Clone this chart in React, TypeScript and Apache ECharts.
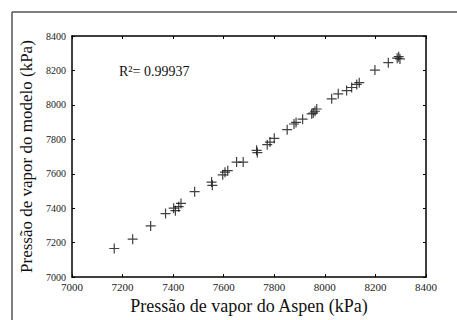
import React, { useEffect, useRef } from "react";
import * as echarts from "echarts";

const aspenValues = [
  7167, 7240, 7311, 7370, 7402, 7409, 7422, 7431, 7485, 7552, 7555, 7596, 7605, 7616,
  7651, 7677, 7730, 7733, 7772, 7783, 7800, 7851, 7878, 7886, 7912, 7948, 7954, 7961,
  7968, 8027, 8053, 8086, 8106, 8126, 8136, 8198, 8251, 8286, 8292, 8297,
];
const modelValues = [
  7166, 7220, 7297, 7369, 7400, 7386, 7409, 7428, 7496, 7552, 7533, 7594, 7609, 7618,
  7668, 7668, 7736, 7723, 7769, 7784, 7806, 7856, 7889, 7898, 7917, 7948, 7953, 7963,
  7976, 8035, 8064, 8083, 8101, 8119, 8129, 8202, 8245, 8271, 8280, 8267,
];
const xTicks = [7000, 7200, 7400, 7600, 7800, 8000, 8200, 8400];
const yTicks = [7000, 7200, 7400, 7600, 7800, 8000, 8200, 8400];
const xTitle = "Pressão de vapor do Aspen (kPa)";
const yTitle = "Pressão de vapor do modelo (kPa)";
const r2Label = "R²= 0.99937";

const FONT = "'Liberation Serif', 'DejaVu Serif', serif";

export default function App() {
  const ref = useRef<HTMLDivElement>(null);
  useEffect(() => {
    if (!ref.current) return;
    const chart = echarts.init(ref.current, null, { renderer: "svg" });
    const points = aspenValues.map((x, i) => [x, modelValues[i]]);
    const plain = (v: number) => String(v);
    const axisCommon = {
      type: "value",
      interval: 200,
      axisLine: { show: true, onZero: false, lineStyle: { color: "#000", width: 1.5 } },
      axisTick: { show: true, inside: true, length: 3, lineStyle: { color: "#000", width: 1 } },
      splitLine: { show: false },
    };
    chart.setOption({
      animation: false,
      backgroundColor: "#fff",
      grid: { left: 72, top: 36, right: 31, bottom: 31, containLabel: false },
      xAxis: [
        {
          ...axisCommon,
          position: "bottom",
          min: xTicks[0],
          max: xTicks[xTicks.length - 1],
          axisLabel: { show: true, margin: 4, fontFamily: FONT, fontSize: 11, color: "#222", formatter: plain },
          name: xTitle,
          nameLocation: "middle",
          nameGap: 15,
          nameTextStyle: { fontFamily: FONT, fontSize: 18, color: "#111" },
        },
        {
          ...axisCommon,
          position: "top",
          min: xTicks[0],
          max: xTicks[xTicks.length - 1],
          axisLabel: { show: false },
        },
      ],
      yAxis: [
        {
          ...axisCommon,
          position: "left",
          min: yTicks[0],
          max: yTicks[yTicks.length - 1],
          axisLabel: { show: true, margin: 6, fontFamily: FONT, fontSize: 10, color: "#222", formatter: plain },
          name: yTitle,
          nameLocation: "middle",
          nameGap: 26,
          nameTextStyle: { fontFamily: FONT, fontSize: 17, color: "#111" },
        },
        {
          ...axisCommon,
          position: "right",
          min: yTicks[0],
          max: yTicks[yTicks.length - 1],
          axisLabel: { show: false },
        },
      ],
      series: [
        {
          type: "scatter",
          xAxisIndex: 0,
          yAxisIndex: 0,
          data: points,
          symbol: "path://M0,5L10,5M5,0L5,10",
          symbolSize: 10,
          itemStyle: { color: "rgba(0,0,0,0)", borderColor: "#111", borderWidth: 1.2 },
        },
      ],
      graphic: [
        {
          type: "line",
          shape: { x1: 12, y1: 12, x2: 457, y2: 12 },
          style: { stroke: "#555", lineWidth: 1.5 },
        },
        {
          type: "line",
          shape: { x1: 12, y1: 12, x2: 12, y2: 320 },
          style: { stroke: "#555", lineWidth: 1.5 },
        },
        {
          type: "text",
          left: 119,
          top: 64,
          style: { text: r2Label, fontFamily: FONT, fontSize: 14, fill: "#111" },
        },
      ],
    });
    return () => chart.dispose();
  }, []);
  return (
    <div
      ref={ref}
      style={{ position: "absolute", left: 0, top: 0, width: 457, height: 320 }}
    />
  );
}
